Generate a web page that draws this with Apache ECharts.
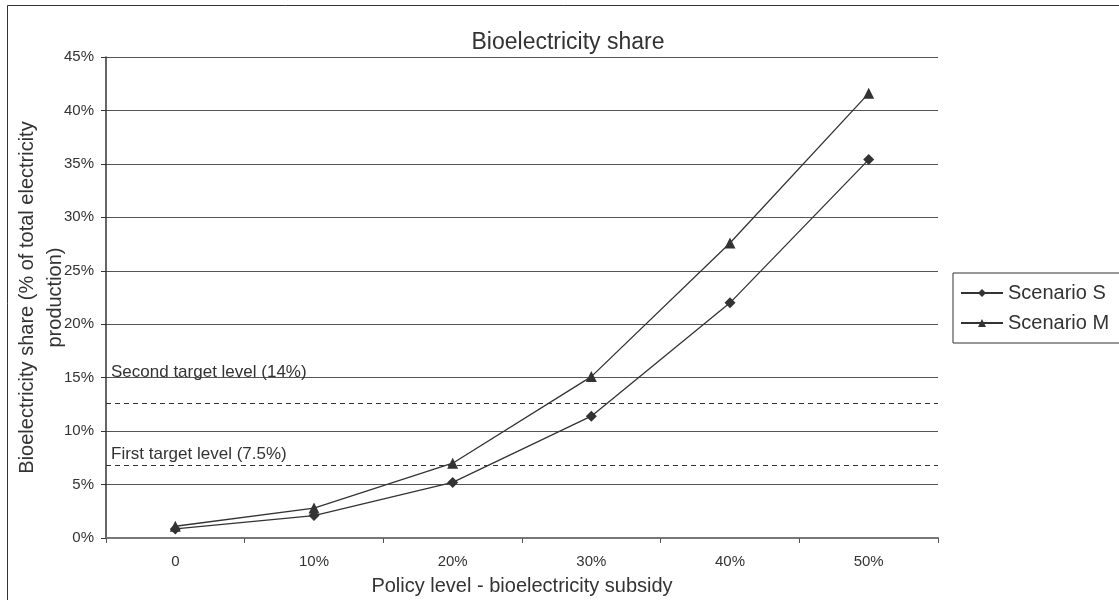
<!DOCTYPE html>
<html>
<head>
<meta charset="utf-8">
<script src="https://cdn.jsdelivr.net/npm/echarts@6/dist/echarts.min.js"></script>
<style>
html,body{margin:0;padding:0;background:#fff;}
#c{width:1119px;height:600px;}
</style>
</head>
<body>
<div id="c"></div>
<script>
var categories = ['0', '10%', '20%', '30%', '40%', '50%'];
var scenarioS = [0.85, 2.1, 5.2, 11.4, 22.0, 35.4];
var scenarioM = [1.1, 2.8, 7.0, 15.1, 27.6, 41.6];
var targetValues = [12.6, 6.85];
var targetLabels = ['Second target level (14%)', 'First target level (7.5%)'];
var yTicks = [0, 45, 5];

var FONT = '"Liberation Sans", Arial, sans-serif';
var chart = echarts.init(document.getElementById('c'), null, {renderer: 'canvas'});

var option = {
  backgroundColor: '#fff',
  animation: false,
  textStyle: {fontFamily: FONT, color: '#333'},
  graphic: [{
    type: 'rect', silent: true, z: -1,
    shape: {x: 7.5, y: 5.5, width: 1200, height: 700},
    style: {fill: 'none', stroke: '#333', lineWidth: 1}
  }],
  title: {
    text: 'Bioelectricity share',
    left: 563, textAlign: 'center', top: 26,
    textStyle: {fontFamily: FONT, fontSize: 23, fontWeight: 'normal', color: '#333'}
  },
  legend: {
    left: 953, top: 273, orient: 'vertical',
    itemWidth: 42, itemHeight: 10, itemGap: 10,
    padding: [10, 20, 10, 7],
    borderColor: '#333', borderWidth: 1,
    textStyle: {fontFamily: FONT, fontSize: 20, color: '#333'},
    data: ['Scenario S', 'Scenario M']
  },
  grid: {left: 106, right: 181, top: 57, bottom: 62, outerBoundsMode: 'none', containLabel: false},
  xAxis: {
    type: 'category', data: categories, boundaryGap: true,
    name: 'Policy level - bioelectricity subsidy',
    nameLocation: 'middle', nameGap: 38, nameMoveOverlap: false,
    nameTextStyle: {fontFamily: FONT, fontSize: 20, color: '#333'},
    axisLine: {lineStyle: {color: '#777', width: 2}},
    axisTick: {show: true, length: 5, lineStyle: {color: '#555'}},
    axisLabel: {fontFamily: FONT, fontSize: 15, color: '#333', margin: 16},
    splitLine: {show: false}
  },
  yAxis: {
    type: 'value', min: yTicks[0], max: yTicks[1], interval: yTicks[2],
    name: 'Bioelectricity share (% of total electricity\nproduction)',
    nameLocation: 'middle', nameGap: 37, nameMoveOverlap: false,
    nameTextStyle: {fontFamily: FONT, fontSize: 20, color: '#333', lineHeight: 28},
    axisLine: {show: true, lineStyle: {color: '#333', width: 1.5}},
    axisTick: {show: true, length: 5, lineStyle: {color: '#333'}},
    axisLabel: {fontFamily: FONT, fontSize: 15, color: '#333', margin: 12, formatter: '{value}%'},
    splitLine: {show: true, lineStyle: {color: '#555', width: 1}}
  },
  series: [{
    name: 'Scenario S', type: 'line', data: scenarioS,
    symbol: 'diamond', symbolSize: 11,
    lineStyle: {color: '#333', width: 1.3},
    itemStyle: {color: '#333'},
    markLine: {
      silent: true, symbol: 'none',
      lineStyle: {color: '#333', type: [5, 4], width: 1},
      data: targetValues.map(function (v, i) {
        return {
          yAxis: v,
          label: {
            show: true, position: 'insideStartTop', formatter: targetLabels[i],
            fontFamily: FONT, fontSize: 17, color: '#333',
            distance: i === 0 ? [5, 23] : [5, 2]
          }
        };
      })
    }
  }, {
    name: 'Scenario M', type: 'line', data: scenarioM,
    symbol: 'triangle', symbolSize: 11,
    lineStyle: {color: '#333', width: 1.3},
    itemStyle: {color: '#333'}
  }]
};
chart.setOption(option);
</script>
</body>
</html>
